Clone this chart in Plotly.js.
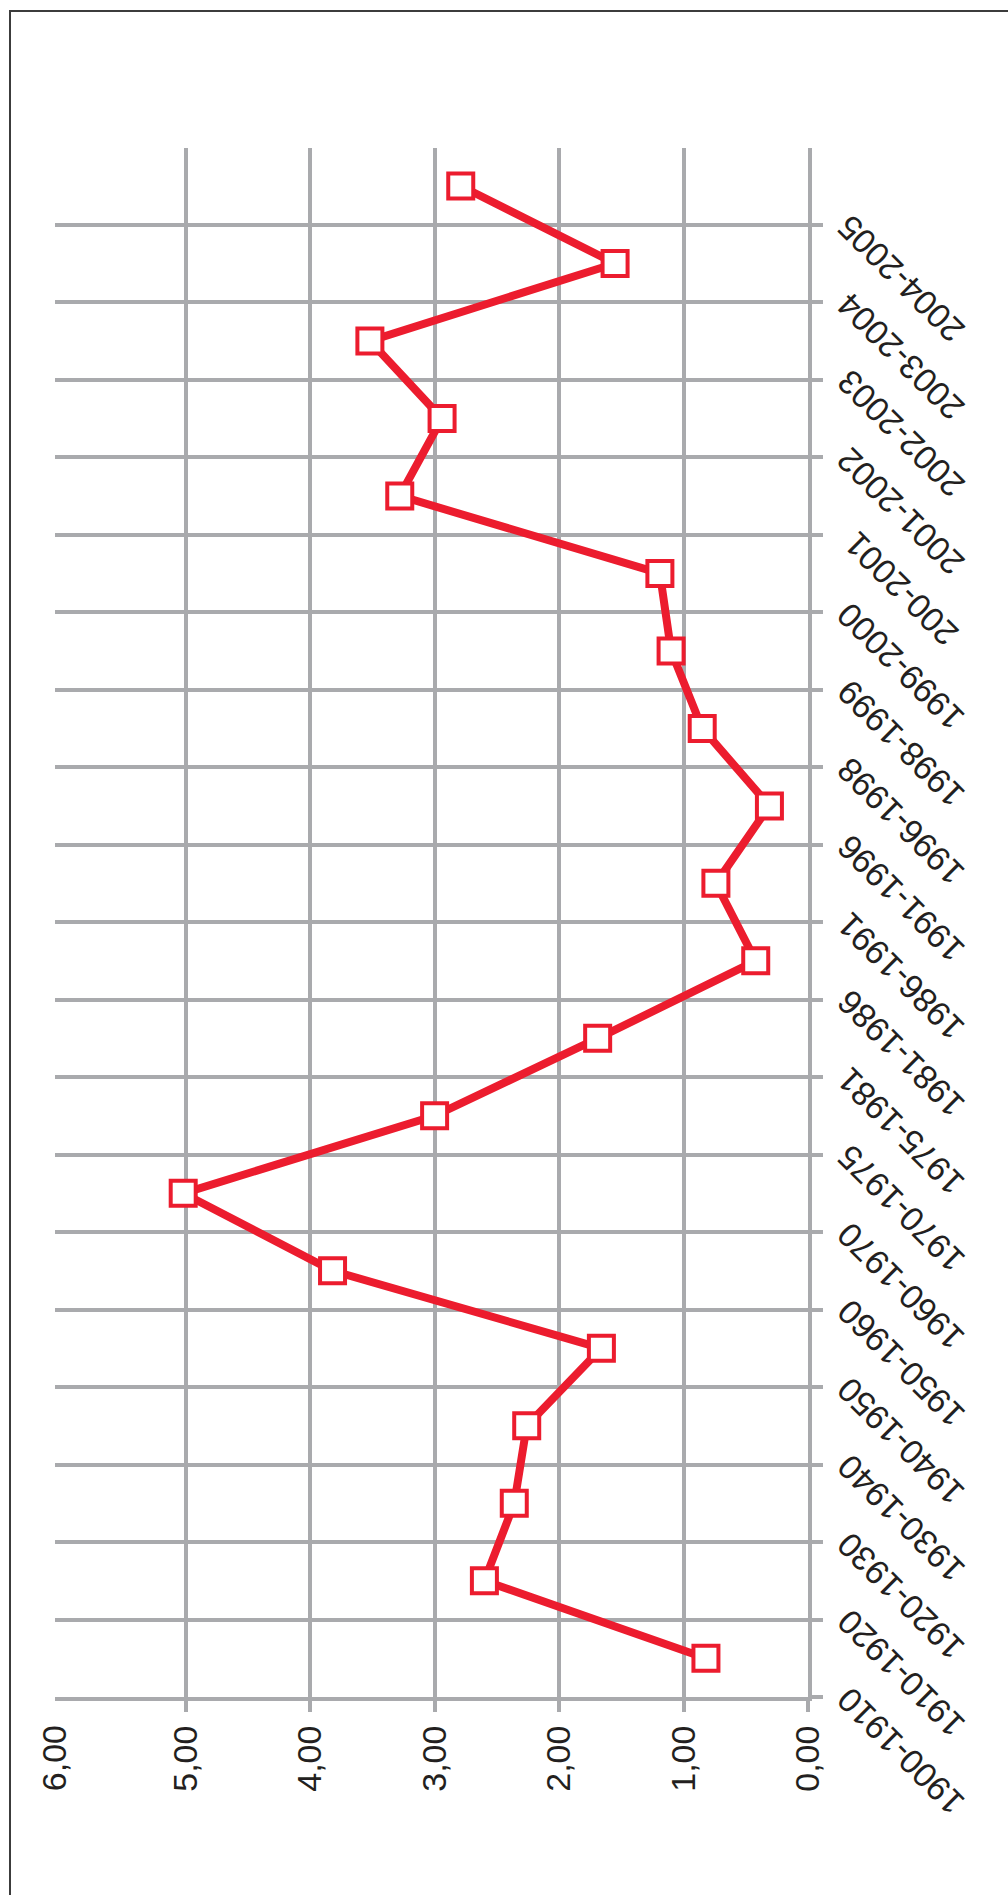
<!DOCTYPE html>
<html>
<head>
<meta charset="utf-8">
<script src="https://cdn.plot.ly/plotly-3.0.1.min.js"></script>
<style>
  body { margin: 0; background: #fff; }
  #myPlot { width: 1008px; height: 1895px; }
  #frame {
    position: absolute; left: 9px; top: 10px; width: 1100px; height: 2000px;
    border-left: 2px solid #3c3c3c; border-top: 2px solid #3c3c3c;
    pointer-events: none;
  }
</style>
</head>
<body>
<div id="myPlot"></div>
<div id="frame"></div>
<script>
// periods, bottom to top
const periods = [
  '1900-1910', '1910-1920', '1920-1930', '1930-1940', '1940-1950',
  '1950-1960', '1960-1970', '1970-1975', '1975-1981', '1981-1986',
  '1986-1991', '1991-1996', '1996-1998', '1998-1999', '1999-2000',
  '200-2001', '2001-2002', '2002-2003', '2003-2004', '2004-2005'
];
const values = [
  0.82, 2.60, 2.36, 2.26, 1.66,
  3.82, 5.02, 3.00, 1.69, 0.42,
  0.74, 0.31, 0.85, 1.10, 1.19,
  3.28, 2.94, 3.52, 1.55, 2.79
];
const valueTicks = [0, 1, 2, 3, 4, 5];
const topTick = 6;

const red = '#ec1c2e';
const grey = '#a9aaad';
const ink = '#231f20';
const labelFont = {family: '"Liberation Sans", Arial, Helvetica, sans-serif', size: 34, color: ink};

const lineTrace = {
  x: values,
  y: periods,
  type: 'scatter',
  mode: 'lines+markers',
  line: {color: red, width: 8},
  marker: {symbol: 'square', size: 25, color: '#ffffff', line: {color: red, width: 4}},
  cliponaxis: false,
  hoverinfo: 'skip'
};

// category labels, slanted like the original axis
const periodLabels = periods.map(function(p) {
  return {
    x: 1, xref: 'paper',
    y: p, yref: 'y',
    text: p,
    textangle: -135,
    showarrow: false,
    xanchor: 'center', yanchor: 'middle',
    xshift: 93, yshift: -93,
    font: labelFont
  };
});

// the top value label has no grid line or tick of its own
periodLabels.push({
  x: topTick, xref: 'x',
  y: 0, yref: 'paper',
  text: topTick.toFixed(2).replace('.', ','),
  textangle: -90,
  showarrow: false,
  xanchor: 'center', yanchor: 'middle',
  xshift: -7, yshift: -61,
  font: labelFont
});

const layout = {
  width: 1008,
  height: 1895,
  margin: {l: 55, r: 200, t: 148, b: 198},
  paper_bgcolor: '#ffffff',
  plot_bgcolor: '#ffffff',
  showlegend: false,
  separators: ',.',
  xaxis: {
    range: [6.05, 0],
    tickmode: 'array',
    tickvals: valueTicks,
    tickformat: '.2f',
    tickangle: -90,
    tickfont: labelFont,
    ticks: 'outside',
    ticklen: 11,
    tickwidth: 4,
    tickcolor: grey,
    showgrid: true,
    gridcolor: grey,
    gridwidth: 4,
    showline: true,
    linecolor: grey,
    linewidth: 4,
    zeroline: false,
    fixedrange: true
  },
  yaxis: {
    type: 'category',
    categoryorder: 'array',
    categoryarray: periods,
    range: [-0.5, periods.length - 0.51],
    side: 'right',
    tickson: 'boundaries',
    ticks: 'outside',
    ticklen: 11,
    tickwidth: 4,
    tickcolor: grey,
    showticklabels: false,
    showgrid: true,
    gridcolor: grey,
    gridwidth: 4,
    showline: true,
    linecolor: grey,
    linewidth: 4,
    zeroline: false,
    fixedrange: true
  },
  annotations: periodLabels
};

Plotly.newPlot('myPlot', [lineTrace], layout, {staticPlot: true});
</script>
</body>
</html>
